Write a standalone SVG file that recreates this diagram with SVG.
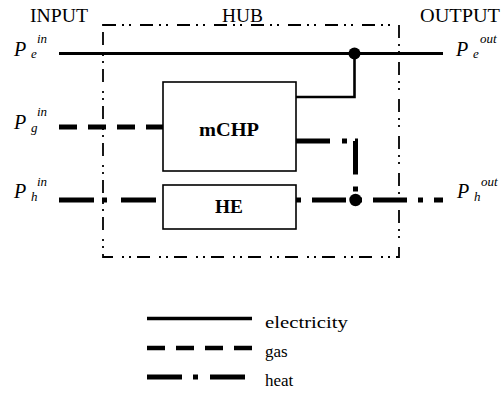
<svg xmlns="http://www.w3.org/2000/svg" width="501" height="394" viewBox="0 0 501 394">
<style>
text{font-family:"Liberation Serif",serif;fill:#000}
.title{font-size:18px}
.P{font-size:20px;font-style:italic}
.sub{font-size:13px;font-style:italic}
.box{fill:#fff;stroke:#000;stroke-width:1.6}
.lbl{font-family:"Liberation Serif",serif;font-size:18px;font-weight:bold;text-anchor:middle}
.leg{font-family:"Liberation Serif",serif;font-size:17px}
.elec{fill:none;stroke:#000;stroke-width:3}
.gas{fill:none;stroke:#000;stroke-width:5;stroke-dasharray:18 11}
.heat{fill:none;stroke:#000;stroke-width:5;stroke-dasharray:34 11 5 11}
.hub{fill:none;stroke:#000;stroke-width:1.8;stroke-dasharray:13 6 2 5 2 9}
</style>
<g id="hub">
<rect x="103" y="25" width="296" height="232" class="hub"/>
<text class="title" x="222" y="22" textLength="41" lengthAdjust="spacingAndGlyphs">HUB</text>
</g>
<g id="labels">
<text class="title" x="30" y="22" textLength="58" lengthAdjust="spacingAndGlyphs">INPUT</text>
<text class="title" x="420" y="22" textLength="80" lengthAdjust="spacingAndGlyphs">OUTPUT</text>
</g>
<g id="connectors">
<path class="elec" d="M59,53.5 H443"/>
<path class="elec" d="M296,97 H354.5 V53.5" style="stroke-width:2.6"/>
<path class="gas" d="M59,127 H163"/>
<path class="heat" d="M59,200 H163" style="stroke-dasharray:35 8 5 14"/>
<path class="heat" d="M296,141 H355.5 V200" style="stroke-dasharray:34 12 5 8"/>
<path class="heat" d="M296,200 H443" style="stroke-dashoffset:45"/>
<circle cx="354.5" cy="53.5" r="6"/>
<circle cx="355.5" cy="200" r="6.2"/>
</g>
<g id="mCHP">
<rect x="163" y="82" width="133" height="89" class="box"/>
<text class="lbl" x="229" y="136" textLength="60" lengthAdjust="spacingAndGlyphs">mCHP</text>
</g>
<g id="HE">
<rect x="163" y="185" width="133" height="44" class="box"/>
<text class="lbl" x="229" y="213" textLength="28" lengthAdjust="spacingAndGlyphs">HE</text>
</g>
<g id="Pe_in">
<text class="P" x="14" y="56">P</text><text class="sub" x="31" y="58">e</text><text class="sub" x="37" y="43">in</text>
</g>
<g id="Pg_in">
<text class="P" x="14" y="129">P</text><text class="sub" x="31" y="132">g</text><text class="sub" x="37" y="116">in</text>
</g>
<g id="Ph_in">
<text class="P" x="14" y="198">P</text><text class="sub" x="31" y="201">h</text><text class="sub" x="37" y="186">in</text>
</g>
<g id="Pe_out">
<text class="P" x="456" y="56">P</text><text class="sub" x="473" y="58">e</text><text class="sub" x="480" y="43">out</text>
</g>
<g id="Ph_out">
<text class="P" x="457" y="198">P</text><text class="sub" x="474" y="201">h</text><text class="sub" x="481" y="186">out</text>
</g>
<g id="legend">
<path class="elec" d="M147,318.5 H252" style="stroke-width:3.5"/>
<path class="gas" d="M147,348 H252" style="stroke-width:4.5"/>
<path class="heat" d="M147,377 H245" style="stroke-dasharray:35 11 5 12"/>
<text class="leg" x="265" y="328" textLength="83" lengthAdjust="spacingAndGlyphs">electricity</text>
<text class="leg" x="265" y="357">gas</text>
<text class="leg" x="265" y="386">heat</text>
</g>
</svg>
